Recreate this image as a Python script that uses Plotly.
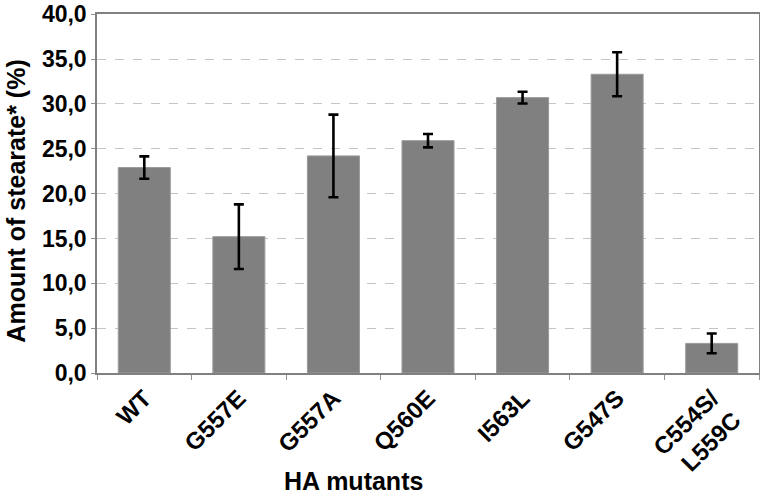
import plotly.graph_objects as go

categories = ["WT", "G557E", "G557A", "Q560E", "I563L", "G547S", "C554S/<br>L559C"]
values = [22.9, 15.2, 24.2, 25.9, 30.7, 33.3, 3.3]
errors = [1.25, 3.6, 4.6, 0.75, 0.65, 2.45, 1.1]
y_ticks = [0, 5, 10, 15, 20, 25, 30, 35, 40]

FONT = "Liberation Sans, Arial, sans-serif"

fig = go.Figure()
fig.add_trace(go.Bar(
    x=categories, y=values,
    marker=dict(color="#808080", line=dict(color="#9a9a9a", width=1)),
    width=0.55,
    error_y=dict(type="data", array=errors, visible=True,
                 color="black", thickness=2.6, width=5),
))

fig.update_layout(
    width=760, height=498,
    margin=dict(l=97, r=1, t=14, b=125),
    paper_bgcolor="white", plot_bgcolor="white",
    separators=",.",
    showlegend=False,
    xaxis=dict(
        type="category", automargin=False,
        showline=True, linecolor="#808080", linewidth=1.5, mirror=True,
        ticks="outside", tickson="boundaries", ticklen=5, tickcolor="#909090",
        tickangle=-45,
        tickfont=dict(family=FONT, size=24, color="black", weight="bold"),
        showgrid=False,
    ),
    yaxis=dict(
        range=[0, 40.02], tickvals=y_ticks, tickformat=".1f", automargin=False,
        ticklabeloverflow="allow",
        showline=True, linecolor="#808080", linewidth=1.5, mirror=True,
        ticks="outside", ticklen=4, tickcolor="#909090",
        tickfont=dict(family=FONT, size=23, color="black", weight="bold"),
        showgrid=True, gridcolor="#c4c4c4", gridwidth=1, griddash="dash",
        zeroline=False,
    ),
    annotations=[
        dict(
            text="HA mutants", xref="paper", yref="paper",
            x=0.387, y=-0.3, xanchor="center", yanchor="middle",
            showarrow=False,
            font=dict(family=FONT, size=25, color="black", weight="bold"),
        ),
        dict(
            text="Amount of stearate* (%)", xref="paper", yref="paper",
            x=-0.1224, y=0.48, xanchor="center", yanchor="middle",
            textangle=-90, showarrow=False,
            font=dict(family=FONT, size=25, color="black", weight="bold"),
        ),
    ],
)

fig.write_html(
    "out.html",
    config={"displayModeBar": False},
    post_script="document.body.style.margin='0';document.body.style.padding='0';",
)
